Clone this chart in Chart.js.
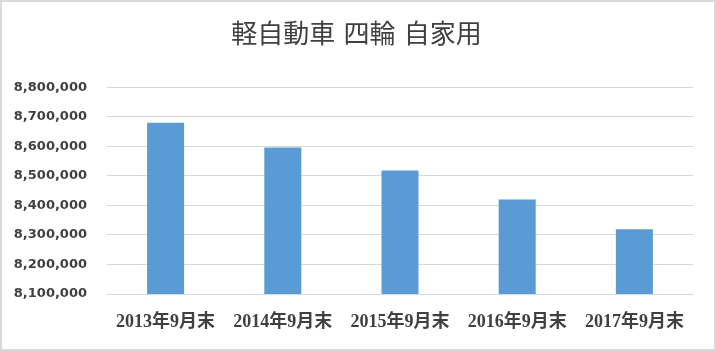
<!DOCTYPE html>
<html>
<head>
<meta charset="utf-8">
<script src="https://cdn.jsdelivr.net/npm/chart.js@4"></script>
<style>
  body { margin: 0; background: #fff; }
  #wrap {
    width: 716px; height: 351px; box-sizing: border-box;
    border: 2px solid #d9d9d9; background: #fff;
  }
</style>
</head>
<body>
<div id="wrap"><canvas id="myChart" width="712" height="347"></canvas></div>
<script>
const labels = ['2013年9月末', '2014年9月末', '2015年9月末', '2016年9月末', '2017年9月末'];
const values = [8680000, 8596000, 8518000, 8420000, 8319000];
const yMin = 8100000;
const yMax = 8800000;
const yStep = 100000;

const data = {
    labels: labels,
    datasets: [{
        label: '軽自動車 四輪 自家用',
        data: values,
        backgroundColor: '#5b9bd5',
        borderWidth: 0,
        categoryPercentage: 1,
        barPercentage: 0.316
    }]
};

const config = {
    type: 'bar',
    data: data,
    options: {
        responsive: false,
        animation: false,
        layout: {
            // left/right split keeps the title centred on the whole box
            padding: { left: 9, right: 12, top: 0, bottom: 0 }
        },
        scales: {
            x: {
                afterFit: function (scale) { scale.height = 55; },
                grid: { display: false, drawTicks: false },
                border: { display: true, color: '#d9d9d9', width: 1 },
                ticks: {
                    color: '#404040',
                    padding: 18,
                    font: { family: "'Liberation Serif', 'Noto Sans CJK JP'", weight: 'bold', size: 18 }
                }
            },
            y: {
                min: yMin,
                max: yMax,
                afterFit: function (scale) { scale.width = 96; },
                grid: { color: '#d9d9d9', lineWidth: 1, drawTicks: false },
                border: { display: false },
                ticks: {
                    stepSize: yStep,
                    color: '#404040',
                    padding: 20,
                    font: { family: "'DejaVu Sans', sans-serif", weight: 'bold', size: 13 },
                    callback: function (v) { return v.toLocaleString('en-US'); }
                }
            },
            // empty spacer on the right so the plot ends where it should
            spacer: {
                type: 'linear',
                position: 'right',
                min: 0,
                max: 1,
                afterFit: function (scale) { scale.width = 9; },
                grid: { display: false, drawTicks: false },
                border: { display: false },
                ticks: { display: false }
            }
        },
        plugins: {
            legend: { display: false },
            tooltip: { enabled: false },
            title: {
                display: true,
                text: '軽自動車 四輪 自家用',
                color: '#404040',
                font: { family: "'DejaVu Sans', 'Noto Sans CJK JP'", weight: 'normal', size: 26 },
                padding: { top: 19, bottom: 35 }
            }
        }
    }
};

const context = document.getElementById('myChart').getContext('2d');
const myChart = new Chart(context, config);
</script>
</body>
</html>
